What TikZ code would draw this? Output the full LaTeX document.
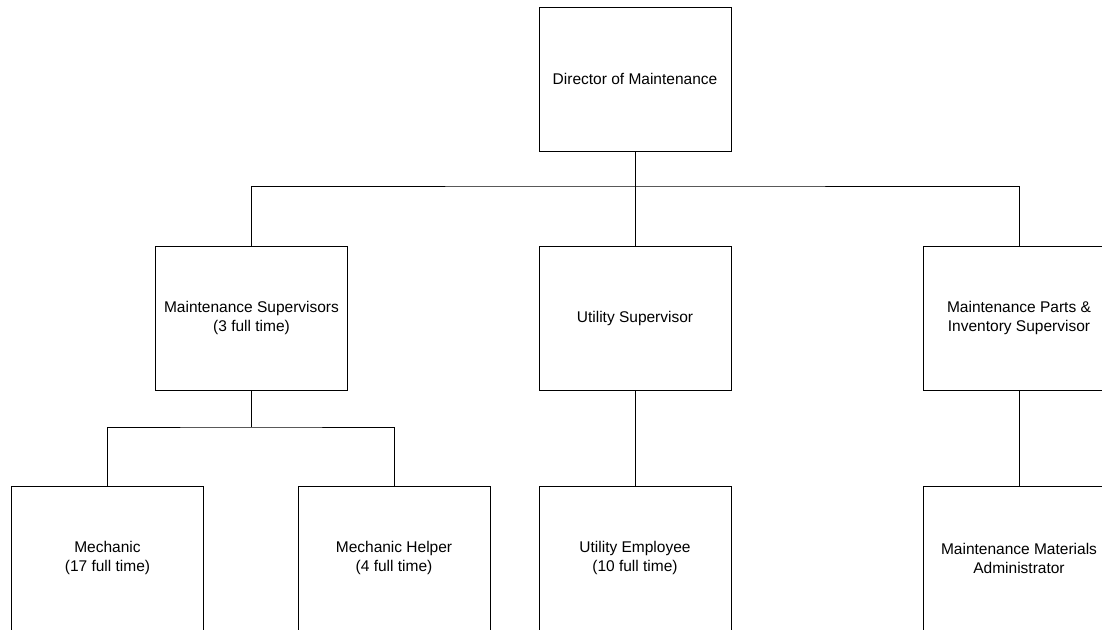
\documentclass[tikz,border=0pt]{standalone}
\usepackage{fontspec}
\setmainfont{Liberation Sans}
\begin{document}
\begin{tikzpicture}[x=1pt,y=-1pt,
  box/.style={draw=black,line width=1pt,rectangle,minimum width=192pt,minimum height=144pt,inner sep=0pt,align=center,
    font=\fontsize{15.5pt}{19pt}\selectfont},
  conn/.style={draw=black,line width=1pt}]
\useasboundingbox (0,0) rectangle (1102,629);
\clip (0,0) rectangle (1102,629);
\node[box] (dir) at (635,79) {Director of Maintenance};
\node[box] (ms) at (251.5,318) {Maintenance Supervisors\\(3 full time)};
\node[box] (us) at (635,318) {Utility Supervisor};
\node[box] (mp) at (1019,318) {Maintenance Parts \&\\Inventory Supervisor};
\node[box] (mech) at (107.5,558) {Mechanic\\(17 full time)};
\node[box] (help) at (394,558) {Mechanic Helper\\(4 full time)};
\node[box] (ue) at (635,558) {Utility Employee\\(10 full time)};
\node[box] (mma) at (1019,558) {Maintenance Materials\\Administrator};
\coordinate (b1) at (635,186);
\coordinate (b2) at (251.5,427);
\draw[conn] (dir.south) -- (us.north);
\draw[conn] (ms.north) |- (b1) -| (mp.north);
\draw[conn] (ms.south) -- (b2);
\draw[conn] (mech.north) |- (b2) -| (help.north);
\draw[conn] (us.south) -- (ue.north);
\draw[conn] (mp.south) -- (mma.north);
\end{tikzpicture}
\end{document}
